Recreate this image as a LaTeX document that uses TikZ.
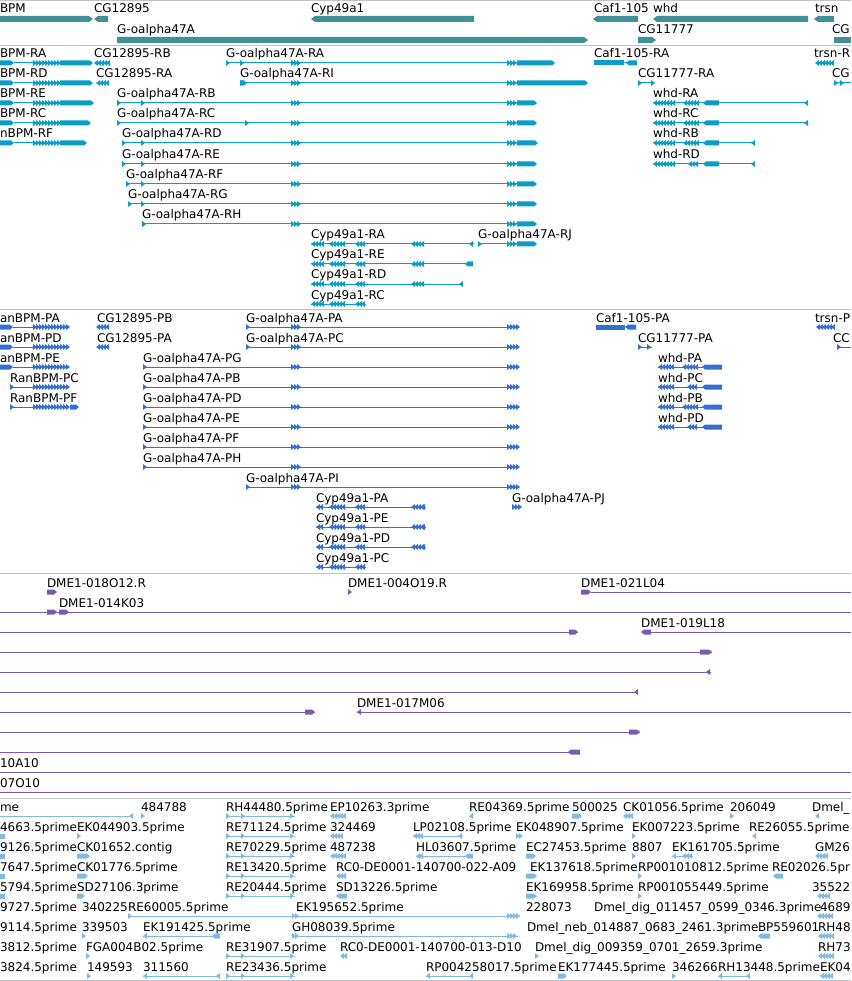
\documentclass[tikz,border=0pt]{standalone}
\usepackage{fontspec}
\setmainfont{DejaVu Sans}
\definecolor{tA}{RGB}{64,145,150}
\definecolor{tB}{RGB}{10,158,196}
\definecolor{tC}{RGB}{50,112,210}
\definecolor{tD}{RGB}{120,90,175}
\definecolor{tE}{RGB}{130,185,225}
\definecolor{sepc}{RGB}{195,195,195}
\tikzset{
  lbl/.style={anchor=base west,inner sep=0pt,outer sep=0pt,text=black,font=\fontsize{12}{14}\selectfont},
  sepl/.style={draw=sepc,line width=1pt}
}
\newcounter{lc}
\newcommand\lab[3]{\stepcounter{lc}\node[lbl] (t\arabic{lc}) at (#1,#2) {#3};}
\newcommand\fline[3]{\draw[line width=1pt] (#1,#3)--(#2,#3);}
\newcommand\fblk[3]{\fill (#1,#3-2.5) rectangle (#2,#3+2.5);}
\newcommand\rblk[3]{\fill (#1,#3-2.5)--(#2-3,#3-2.5)--(#2,#3)--(#2-3,#3+2.5)--(#1,#3+2.5)--cycle;}
\newcommand\lblk[3]{\fill (#2,#3-2.5)--(#1+3,#3-2.5)--(#1,#3)--(#1+3,#3+2.5)--(#2,#3+2.5)--cycle;}
\newcommand\rbar[3]{\fill (#1,#3-3)--(#2-4,#3-3)--(#2,#3)--(#2-4,#3+3)--(#1,#3+3)--cycle;}
\newcommand\lbar[3]{\fill (#2,#3-3)--(#1+4,#3-3)--(#1,#3)--(#1+4,#3+3)--(#2,#3+3)--cycle;}
\newcommand\rtri[2]{\fill (#1,#2-3)--(#1+4,#2)--(#1,#2+3)--cycle;}
\newcommand\ltri[2]{\fill (#1+4,#2-3)--(#1,#2)--(#1+4,#2+3)--cycle;}
\newcommand\rarrs[3]{\pgfmathtruncatemacro\nA{max(0,(#2-#1-4)/3)}\foreach \k in {0,...,\nA}{\rtri{#1+3*\k}{#3}}}
\newcommand\larrs[3]{\pgfmathtruncatemacro\nA{max(0,(#2-#1-4)/3)}\foreach \k in {0,...,\nA}{\ltri{#1+3*\k}{#3}}}
% transcript patterns
\newcommand\bpmT[2]{\rblk{0}{14}{#2}\fline{14}{33}{#2}\rarrs{33}{62}{#2}\rblk{60}{#1}{#2}}
\newcommand\gR[4]{\fline{#1}{517}{#4}\rtri{#1}{#4}\rtri{#2}{#4}\rarrs{291}{302}{#4}\rarrs{507}{519}{#4}\rblk{517}{#3}{#4}}
\newcommand\gP[2]{\fline{#1}{510}{#2}\rtri{#1}{#2}\rarrs{291}{302}{#2}\rarrs{507}{522}{#2}}
\newcommand\cypA[2]{\fline{#1}{366}{#2}\larrs{#1}{324}{#2}\larrs{329}{347}{#2}\larrs{355}{366}{#2}}
\newcommand\cypB[2]{\fline{366}{#1}{#2}\larrs{411}{426}{#2}}
\newcommand\whdR[3]{\fline{653}{#1}{#3}\larrs{653}{676}{#3}\larrs{#2}{700}{#3}\lblk{703}{719}{#3}\ltri{#1-4}{#3}}
\newcommand\whdP[2]{\fline{658}{722}{#2}\larrs{658}{675}{#2}\larrs{#1}{699}{#2}\lblk{702}{722}{#2}}
\newcommand\estP[1]{\fline{226}{295}{#1}\rtri{226}{#1}\rtri{241}{#1}\rtri{290}{#1}}
\begin{document}
\begin{tikzpicture}[x=1pt,y=-1pt]
\useasboundingbox (0,0) rectangle (851,981);
\fill[white] (0,0) rectangle (851,981);
\clip (0,0) rectangle (851,981);
% separators
\draw[sepl] (0,1)--(851,1);
\draw[sepl] (0,45.5)--(851,45.5);
\draw[sepl] (0,309)--(851,309);
\draw[sepl] (0,573)--(851,573);
\draw[sepl] (0,798)--(851,798);
\draw[sepl] (0,980)--(851,980);
% ---------------- track 1: genes
\begin{scope}[color=tA]
\lab{0}{13}{BPM}\lab{94}{13}{CG12895}\lab{311}{13}{Cyp49a1}\lab{594}{13}{Caf1-105}\lab{653}{13}{whd}\lab{815}{13}{trsn}
\lab{117}{34}{G-oalpha47A}\lab{638}{34}{CG11777}\lab{832}{34}{CG}
\rbar{0}{93}{19}\lbar{94}{108}{19}\lbar{311}{474}{19}\lbar{593}{638}{19}\lbar{653}{808}{19}\lbar{814}{834}{19}
\rbar{117}{588}{40}\rbar{638}{656}{40}\fill (834,37) rectangle (851,43);
\end{scope}
% ---------------- track 2: transcripts
\begin{scope}[color=tB]
% row A
\lab{0}{58}{BPM-RA}\lab{94}{58}{CG12895-RB}\lab{226}{58}{G-oalpha47A-RA}\lab{594}{58}{Caf1-105-RA}\lab{814}{58}{trsn-R}
\bpmT{93}{63}\larrs{94}{110}{63}\gR{226}{240}{555}{63}
\fblk{594}{624}{63}\fline{624}{628}{63}\lblk{626}{637}{63}\larrs{815}{836}{63}
% row B
\lab{0}{78}{BPM-RD}\lab{96}{78}{CG12895-RA}\lab{240}{78}{G-oalpha47A-RI}\lab{638}{78}{CG11777-RA}\lab{832}{78}{CG}
\bpmT{93}{83}\larrs{96}{110}{83}\gR{240}{242}{588}{83}\rblk{240}{247}{83}
\fline{638}{652}{83}\rtri{638}{83}\rtri{651}{83}\fline{834}{851}{83}\rtri{834}{83}\rtri{840}{83}
% row C
\lab{0}{98}{BPM-RE}\lab{117}{98}{G-oalpha47A-RB}\lab{653}{98}{whd-RA}
\bpmT{94}{103}\gR{117}{141}{537}{103}\whdR{808}{683}{103}
% row D
\lab{0}{118}{BPM-RC}\lab{117}{118}{G-oalpha47A-RC}\lab{653}{118}{whd-RC}
\bpmT{91}{123}\gR{117}{245}{537}{123}\whdR{808}{683}{123}
% row E
\lab{0}{138}{nBPM-RF}\lab{122}{138}{G-oalpha47A-RD}\lab{653}{138}{whd-RB}
\bpmT{87}{143}\gR{122}{141}{538}{143}\whdR{755}{683}{143}
% row F
\lab{122}{159}{G-oalpha47A-RE}\lab{653}{159}{whd-RD}
\gR{122}{141}{537}{164}\whdR{755}{688}{164}
% rows G-I
\lab{126}{179}{G-oalpha47A-RF}\gR{126}{141}{537}{184}
\lab{128}{199}{G-oalpha47A-RG}\gR{128}{141}{537}{204}
\lab{142}{219}{G-oalpha47A-RH}\gR{142}{142}{537}{224}
% rows J-M
\lab{311}{239}{Cyp49a1-RA}\lab{478}{239}{G-oalpha47A-RJ}
\cypA{311}{244}\cypB{474}{244}\ltri{469}{244}
\fline{478}{517}{244}\rtri{478}{244}\rarrs{507}{519}{244}\rblk{517}{537}{244}
\lab{311}{259}{Cyp49a1-RE}\cypA{311}{264}\cypB{473}{264}\lblk{465}{473}{264}
\lab{311}{279}{Cyp49a1-RD}\cypA{311}{284}\cypB{463}{284}\ltri{459}{284}
\lab{311}{299}{Cyp49a1-RC}\cypA{311}{304}
\end{scope}
% ---------------- track 3: proteins
\begin{scope}[color=tC]
% row 1
\lab{0}{322}{anBPM-PA}\lab{97}{322}{CG12895-PB}\lab{246}{322}{G-oalpha47A-PA}\lab{596}{322}{Caf1-105-PA}\lab{815}{322}{trsn-P}
\rblk{0}{13}{327}\fline{13}{33}{327}\rarrs{33}{72}{327}\larrs{96}{110}{327}\gP{246}{327}
\fblk{596}{625}{327}\lblk{625}{636}{327}\larrs{816}{836}{327}
% row 2
\lab{0}{342}{anBPM-PD}\lab{97}{342}{CG12895-PA}\lab{246}{342}{G-oalpha47A-PC}\lab{638}{342}{CG11777-PA}\lab{833}{342}{CC}
\rblk{0}{13}{347}\fline{13}{33}{347}\rarrs{33}{72}{347}\larrs{96}{110}{347}\gP{246}{347}
\fline{638}{652}{347}\rtri{638}{347}\rtri{647}{347}\fline{837}{851}{347}\rtri{837}{347}
% row 3
\lab{0}{362}{anBPM-PE}\lab{143}{362}{G-oalpha47A-PG}\lab{658}{362}{whd-PA}
\rblk{0}{13}{367}\fline{13}{33}{367}\rarrs{33}{72}{367}\gP{143}{367}\whdP{682}{367}
% row 4
\lab{10}{382}{RanBPM-PC}\lab{143}{382}{G-oalpha47A-PB}\lab{658}{382}{whd-PC}
\fline{10}{33}{387}\rtri{10}{387}\rarrs{33}{72}{387}\gP{143}{387}\whdP{687}{387}
% row 5
\lab{10}{402}{RanBPM-PF}\lab{143}{402}{G-oalpha47A-PD}\lab{658}{402}{whd-PB}
\fline{10}{33}{407}\rtri{10}{407}\rarrs{33}{72}{407}\rblk{70}{79}{407}\gP{143}{407}\whdP{682}{407}
% row 6-9
\lab{143}{422}{G-oalpha47A-PE}\lab{658}{422}{whd-PD}\gP{143}{427}\whdP{687}{427}
\lab{143}{442}{G-oalpha47A-PF}\gP{143}{447}
\lab{143}{462}{G-oalpha47A-PH}\gP{143}{467}
\lab{246}{482}{G-oalpha47A-PI}\gP{246}{487}
% rows 10-13
\lab{316}{502}{Cyp49a1-PA}\lab{512}{502}{G-oalpha47A-PJ}
\cypA{316}{507}\cypB{426}{507}\ltri{421}{507}\rarrs{512}{522}{507}
\lab{316}{522}{Cyp49a1-PE}\cypA{316}{527}\cypB{426}{527}\ltri{421}{527}
\lab{316}{542}{Cyp49a1-PD}\cypA{316}{547}\cypB{426}{547}\ltri{421}{547}
\lab{316}{562}{Cyp49a1-PC}\cypA{316}{567}
\end{scope}
% ---------------- track 4: clones
\begin{scope}[color=tD]
\lab{47}{587}{DME1-018O12.R}\lab{348}{587}{DME1-004O19.R}\lab{581}{587}{DME1-021L04}
\rblk{47}{57}{592}\rtri{348}{592}\rblk{581}{591}{592}\fline{591}{851}{592}
\lab{59}{607}{DME1-014K03}
\fline{0}{851}{612}\rblk{47}{57}{612}\rblk{59}{69}{612}
\fline{0}{578}{632}\rblk{569}{578}{632}
\lab{641}{627}{DME1-019L18}\lblk{641}{651}{632}\fline{651}{851}{632}
\fline{0}{712}{652}\rblk{700}{712}{652}
\fline{0}{711}{672}\ltri{706}{672}
\fline{0}{638}{692}\ltri{634}{692}
\fline{0}{315}{712}\rblk{305}{315}{712}
\lab{357}{707}{DME1-017M06}\ltri{357}{712}\fline{357}{851}{712}
\fline{0}{640}{732}\rblk{629}{640}{732}
\fline{0}{580}{752}\lblk{568}{580}{752}
\lab{0}{767}{10A10}\fline{0}{851}{772}
\lab{0}{787}{07O10}\fline{0}{851}{792}
\end{scope}
% ---------------- track 5: ESTs
\begin{scope}[color=tE]
% row 0
\lab{0}{811}{me}\lab{141}{811}{484788}\lab{226}{811}{RH44480.5prime}\lab{330}{811}{EP10263.3prime}
\lab{469}{811}{RE04369.5prime}\lab{572}{811}{500025}\lab{623}{811}{CK01056.5prime}\lab{730}{811}{206049}\lab{812}{811}{Dmel\_}
\fline{0}{133}{816}\ltri{129}{816}\rtri{141}{816}\estP{816}\larrs{330}{346}{816}\ltri{469}{816}
\rblk{572}{582}{816}\larrs{623}{635}{816}\rtri{730}{816}\ltri{815}{816}
% row 1
\lab{0}{831}{4663.5prime}\lab{77}{831}{EK044903.5prime}\lab{226}{831}{RE71124.5prime}\lab{330}{831}{324469}
\lab{413}{831}{LP02108.5prime}\lab{516}{831}{EK048907.5prime}\lab{632}{831}{EK007223.5prime}\lab{749}{831}{RE26055.5prime}
\fblk{0}{5}{836}\rtri{77}{836}\estP{836}\larrs{330}{343}{836}
\fline{413}{463}{836}\larrs{413}{423}{836}\ltri{458}{836}\rarrs{516}{525}{836}\rtri{632}{836}\ltri{752}{836}
% row 2
\lab{0}{851}{9126.5prime}\lab{77}{851}{CK01652.contig}\lab{226}{851}{RE70229.5prime}\lab{330}{851}{487238}
\lab{416}{851}{HL03607.5prime}\lab{526}{851}{EC27453.5prime}\lab{632}{851}{8807}\lab{672}{851}{EK161705.5prime}\lab{815}{851}{GM26}
\fblk{0}{5}{856}\rblk{77}{90}{856}\estP{856}\larrs{330}{346}{856}
\fline{416}{473}{856}\larrs{416}{424}{856}\lblk{465}{473}{856}\rblk{526}{536}{856}\rtri{632}{856}
\fline{672}{693}{856}\ltri{672}{856}\larrs{682}{693}{856}\larrs{815}{830}{856}
% row 3
\lab{0}{871}{7647.5prime}\lab{77}{871}{CK01776.5prime}\lab{226}{871}{RE13420.5prime}\lab{336}{871}{RC0-DE0001-140700-022-A09}
\lab{530}{871}{EK137618.5prime}\lab{638}{871}{RP001010812.5prime}\lab{772}{871}{RE02026.5pr}
\fblk{0}{5}{876}\rblk{77}{88}{876}\estP{876}\larrs{336}{346}{876}\rblk{526}{537}{876}\rtri{638}{876}\lblk{773}{783}{876}
% row 4
\lab{0}{891}{5794.5prime}\lab{77}{891}{SD27106.3prime}\lab{226}{891}{RE20444.5prime}\lab{336}{891}{SD13226.5prime}
\lab{526}{891}{EK169958.5prime}\lab{638}{891}{RP001055449.5prime}\lab{812}{891}{35522}
\fblk{0}{5}{896}\rblk{77}{85}{896}\estP{896}\lblk{336}{347}{896}\rblk{526}{537}{896}\rtri{638}{896}\larrs{817}{830}{896}
% row 5
\lab{0}{911}{9727.5prime}\lab{82}{911}{340225}\lab{128}{911}{RE60005.5prime}\lab{296}{911}{EK195652.5prime}
\lab{526}{911}{228073}\lab{594}{911}{Dmel\_dig\_011457\_0599\_0346.3prime}\lab{820}{911}{4689}
\fline{128}{520}{916}\rtri{128}{916}\rarrs{292}{301}{916}\rarrs{507}{520}{916}\larrs{817}{833}{916}
% row 6
\lab{0}{931}{9114.5prime}\lab{82}{931}{339503}\lab{143}{931}{EK191425.5prime}\lab{292}{931}{GH08039.5prime}
\lab{527}{931}{Dmel\_neb\_014887\_0683\_2461.3prime}\lab{758}{931}{BP559601}\lab{818}{931}{RH48}
\rtri{82}{936}\fline{143}{220}{936}\ltri{143}{936}\lblk{212}{220}{936}
\fline{292}{518}{936}\rarrs{292}{301}{936}\rarrs{507}{518}{936}\lblk{758}{770}{936}\larrs{818}{835}{936}
% row 7
\lab{0}{951}{3812.5prime}\lab{86}{951}{FGA004B02.5prime}\lab{226}{951}{RE31907.5prime}\lab{340}{951}{RC0-DE0001-140700-013-D10}
\lab{535}{951}{Dmel\_dig\_009359\_0701\_2659.3prime}\lab{818}{951}{RH73}
\rtri{86}{956}\estP{956}\larrs{340}{347}{956}\rtri{535}{956}\larrs{818}{835}{956}
% row 8
\lab{0}{971}{3824.5prime}\lab{87}{971}{149593}\lab{143}{971}{311560}\lab{226}{971}{RE23436.5prime}
\lab{426}{971}{RP004258017.5prime}\lab{558}{971}{EK177445.5prime}\lab{672}{971}{346266}\lab{718}{971}{RH13448.5prime}\lab{820}{971}{EK04}
\rtri{87}{976}\fline{143}{220}{976}\ltri{143}{976}\ltri{216}{976}\estP{976}
\fline{426}{473}{976}\ltri{426}{976}\ltri{469}{976}\rblk{558}{567}{976}\rtri{672}{976}
\fline{718}{750}{976}\ltri{718}{976}\ltri{746}{976}\larrs{820}{835}{976}
\end{scope}
\end{tikzpicture}
\end{document}
